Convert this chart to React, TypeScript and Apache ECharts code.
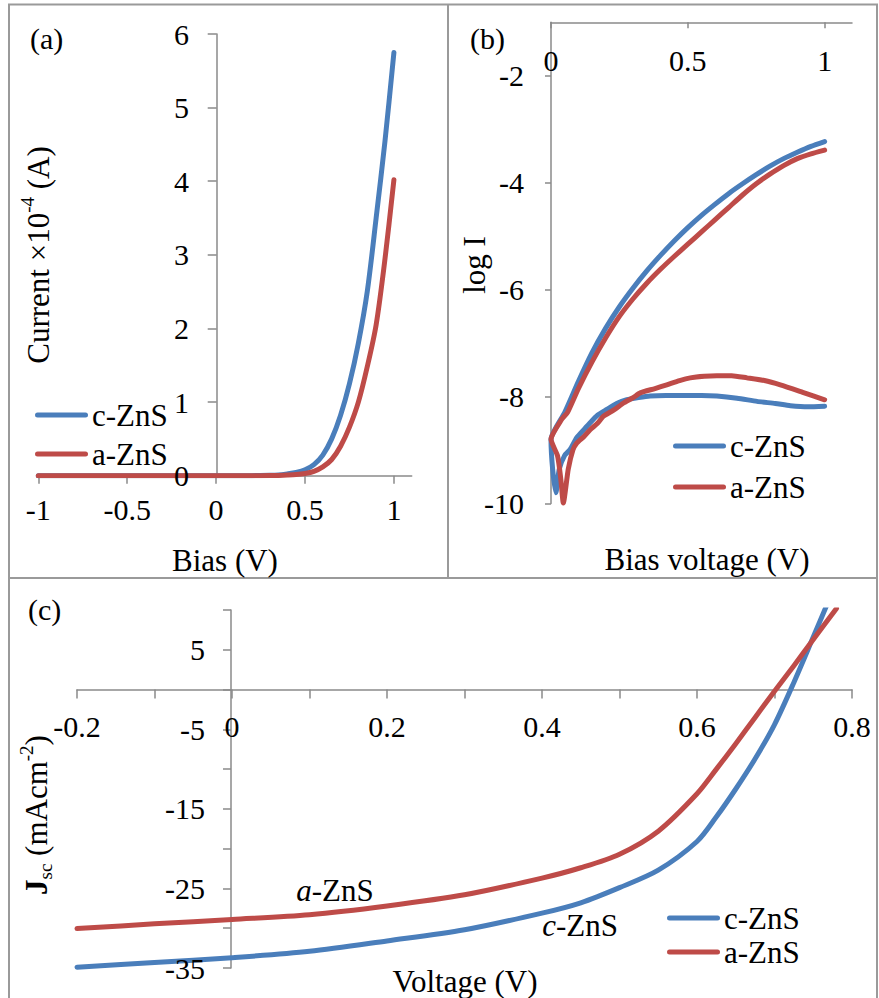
import React, { useEffect, useRef } from "react";
import * as echarts from "echarts";

// ---------- Panel (a): I-V, linear scale ----------
const biasA = [-1, -0.5, 0, 0.2, 0.3, 0.35, 0.4, 0.45, 0.5, 0.55, 0.6, 0.65, 0.7, 0.75, 0.8, 0.85, 0.9, 0.95, 1.0];
const cZnS_A = [0, 0, 0, 0.001, 0.005, 0.01, 0.025, 0.045, 0.08, 0.15, 0.28, 0.5, 0.82, 1.25, 1.8, 2.5, 3.5, 4.55, 5.75];
const aZnS_A = [0, 0, 0, 0, 0.002, 0.004, 0.008, 0.015, 0.03, 0.06, 0.12, 0.22, 0.4, 0.66, 1.0, 1.48, 2.05, 2.95, 4.02];
const ticksA_X = [-1, -0.5, 0, 0.5, 1];
const ticksA_Y = [0, 1, 2, 3, 4, 5, 6];

// ---------- Panel (b): log I ----------
const cZnS_B_x = [1.0, 0.95, 0.9, 0.85, 0.8, 0.75, 0.7, 0.65, 0.6, 0.55, 0.5, 0.45, 0.4, 0.35, 0.3, 0.25, 0.2, 0.15, 0.1, 0.05, 0.0, 0.006, 0.018, 0.03, 0.05, 0.07, 0.094, 0.12, 0.143, 0.17, 0.204, 0.24, 0.277, 0.32, 0.362, 0.42, 0.484, 0.55, 0.606, 0.68, 0.753, 0.82, 0.875, 0.94, 1.0];
const cZnS_B_y = [-3.23, -3.32, -3.43, -3.55, -3.69, -3.85, -4.02, -4.2, -4.4, -4.61, -4.84, -5.09, -5.36, -5.65, -5.97, -6.32, -6.72, -7.18, -7.72, -8.3, -8.8, -9.36, -9.8, -9.36, -9.1, -8.99, -8.77, -8.62, -8.49, -8.35, -8.24, -8.13, -8.06, -8.02, -7.99, -7.98, -7.98, -7.98, -7.99, -8.03, -8.09, -8.13, -8.17, -8.19, -8.18];
const aZnS_B_x = [1.0, 0.95, 0.9, 0.85, 0.8, 0.75, 0.7, 0.65, 0.6, 0.55, 0.5, 0.45, 0.4, 0.35, 0.3, 0.25, 0.2, 0.15, 0.1, 0.06, 0.04, 0.0, 0.024, 0.036, 0.045, 0.063, 0.08, 0.094, 0.12, 0.143, 0.17, 0.191, 0.23, 0.265, 0.3, 0.326, 0.38, 0.423, 0.47, 0.509, 0.56, 0.606, 0.66, 0.716, 0.78, 0.838, 0.92, 1.0];
const aZnS_B_y = [-3.39, -3.46, -3.55, -3.68, -3.84, -4.02, -4.23, -4.46, -4.69, -4.92, -5.15, -5.38, -5.62, -5.88, -6.17, -6.5, -6.9, -7.35, -7.85, -8.3, -8.42, -8.8, -9.11, -9.55, -9.99, -9.36, -9.0, -8.87, -8.75, -8.62, -8.5, -8.37, -8.25, -8.12, -8.02, -7.93, -7.85, -7.78, -7.7, -7.65, -7.62, -7.61, -7.61, -7.65, -7.7, -7.78, -7.92, -8.06];
const ticksB_Y = [-10, -8, -6, -4, -2];
const ticksB_X = [0, 0.5, 1];

// ---------- Panel (c): J-V ----------
const cZnS_C_v = [-0.2, -0.1, 0, 0.1, 0.2, 0.3, 0.4, 0.45, 0.5, 0.55, 0.6, 0.625, 0.65, 0.675, 0.7, 0.725, 0.75, 0.77];
const cZnS_C_j = [-34.9, -34.3, -33.7, -32.9, -31.6, -30.2, -28.1, -26.8, -24.9, -22.7, -19.1, -16.0, -12.5, -8.7, -4.4, 0.9, 6.6, 11.2];
const aZnS_C_v = [-0.2, -0.1, 0, 0.1, 0.2, 0.3, 0.4, 0.45, 0.5, 0.55, 0.6, 0.625, 0.65, 0.675, 0.7, 0.725, 0.75, 0.78];
const aZnS_C_j = [-30.05, -29.45, -28.9, -28.3, -27.2, -25.8, -23.7, -22.4, -20.7, -17.8, -13.1, -10.0, -6.8, -3.5, -0.2, 3.0, 6.3, 10.2];
const labelsC_X = [-0.2, 0, 0.2, 0.4, 0.6, 0.8];
const labelsC_Y = [-35, -25, -15, -5, 5];

const seriesNames = ["c-ZnS", "a-ZnS"];

const BLUE = "#4A7EBB";
const RED = "#BE4B48";
const FONT = "Liberation Serif";
const AXIS_COLOR = "#8a8a8a";
const FRAME = "#9a9a9a";

const zip = (xs: number[], ys: number[]) => xs.map((x, i) => [x, ys[i]]);

function lineSeries(name: string, color: string, idx: number, data: number[][], smooth: number | boolean) {
  return {
    type: "line",
    name,
    xAxisIndex: idx,
    yAxisIndex: idx,
    data,
    symbol: "none",
    smooth,
    lineStyle: { color, width: 5, cap: "round", join: "round" },
    itemStyle: { color },
    z: name === "a-ZnS" ? 3 : 2,
  };
}

// Text drawn as a rich token so the serif face is applied reliably.
function txt(x: number, y: number, text: string, size: number, align = "center") {
  return {
    type: "text", x, y, silent: true, z: 10,
    style: {
      text: "{n|" + text + "}",
      fontFamily: FONT, fontSize: size, fill: "#000", textAlign: align, textVerticalAlign: "middle",
      rich: { n: { fontFamily: FONT, fontSize: size, fill: "#000", color: "#000" } },
    },
  };
}

function legendGraphic(x: number, ys: number[]) {
  const colors = [BLUE, RED];
  const out: any[] = [];
  ys.forEach((y, i) => {
    out.push({
      type: "line", silent: true, z: 10,
      shape: { x1: x + 2.5, y1: y, x2: x + 50.5, y2: y },
      style: { stroke: colors[i], lineWidth: 5, lineCap: "round" },
    });
    out.push(txt(x + 57, y, seriesNames[i], 31, "left"));
  });
  return out;
}

const axisLine = { show: true, onZero: false, lineStyle: { color: AXIS_COLOR, width: 1.5 } };
const tickLine = { color: AXIS_COLOR, width: 1.5 };
const noLabel = { show: false };

export default function App() {
  const ref = useRef<HTMLDivElement>(null);

  useEffect(() => {
    if (!ref.current) return;
    const chart = echarts.init(ref.current, undefined, { renderer: "svg" });

    const staticGraphics: any[] = [
      { type: "rect", shape: { x: 9, y: 4.5, width: 868, height: 1000 }, style: { fill: "none", stroke: FRAME, lineWidth: 2 }, silent: true },
      { type: "line", shape: { x1: 448, y1: 4.5, x2: 448, y2: 578 }, style: { stroke: FRAME, lineWidth: 2 }, silent: true },
      { type: "line", shape: { x1: 9, y1: 578, x2: 877, y2: 578 }, style: { stroke: FRAME, lineWidth: 2 }, silent: true },
      txt(30, 38, "(a)", 30, "left"),
      txt(470, 38, "(b)", 30, "left"),
      txt(28, 609, "(c)", 30, "left"),
      txt(225, 560, "Bias (V)", 31),
      txt(707, 559, "Bias voltage (V)", 31),
      txt(465, 981, "Voltage (V)", 31),
      { ...txt(474, 265, "log I", 31), rotation: Math.PI / 2 },
      {
        type: "text", x: 36, y: 255, rotation: Math.PI / 2, silent: true,
        style: {
          text: "{n|Current ×10}{s|-4}{n| (A)}",
          fontFamily: FONT, fontSize: 31, fill: "#000", textAlign: "center", textVerticalAlign: "middle",
          rich: {
            n: { fontFamily: FONT, fontSize: 31, lineHeight: 36, verticalAlign: "bottom" },
            s: { fontFamily: FONT, fontSize: 19, lineHeight: 36, verticalAlign: "top" },
          },
        },
      },
      {
        type: "text", x: 36, y: 815, rotation: Math.PI / 2, silent: true,
        style: {
          text: "{b|J}{sub|sc}{n| (mAcm}{s|-2}{n|)}",
          fontFamily: FONT, fontSize: 31, fill: "#000", textAlign: "center", textVerticalAlign: "middle",
          rich: {
            b: { fontFamily: FONT, fontSize: 31, fontWeight: "bold", lineHeight: 38, verticalAlign: "middle" },
            sub: { fontFamily: FONT, fontSize: 19, lineHeight: 38, verticalAlign: "bottom" },
            n: { fontFamily: FONT, fontSize: 31, lineHeight: 38, verticalAlign: "middle" },
            s: { fontFamily: FONT, fontSize: 19, lineHeight: 38, verticalAlign: "top" },
          },
        },
      },
      {
        type: "text", x: 335, y: 890, silent: true,
        style: {
          text: "{i|a}{n|-ZnS}", fontFamily: FONT, fontSize: 31, fill: "#000", textAlign: "center", textVerticalAlign: "middle",
          rich: { i: { fontFamily: FONT, fontSize: 31, fontStyle: "italic" }, n: { fontFamily: FONT, fontSize: 31 } },
        },
      },
      {
        type: "text", x: 580, y: 925, silent: true,
        style: {
          text: "{i|c}{n|-ZnS}", fontFamily: FONT, fontSize: 31, fill: "#000", textAlign: "center", textVerticalAlign: "middle",
          rich: { i: { fontFamily: FONT, fontSize: 31, fontStyle: "italic" }, n: { fontFamily: FONT, fontSize: 31 } },
        },
      },
      ...legendGraphic(35, [415, 454]),
      ...legendGraphic(673, [446, 487]),
      ...legendGraphic(667, [918, 952]),
    ];

    const option: any = {
      animation: false,
      backgroundColor: "#fff",
      textStyle: { fontFamily: FONT, color: "#000" },
      grid: [
        { left: 38.3, top: 34, width: 373.4, height: 441.7 },
        { left: 551, top: 22.3, width: 301, height: 481.2 },
        { left: 77, top: 610, width: 775, height: 358 },
      ],
      xAxis: [
        {
          gridIndex: 0, type: "value", min: -1, max: 1.1, interval: 0.5,
          axisLine,
          axisTick: { show: true, inside: false, length: 8, customValues: ticksA_X, lineStyle: tickLine },
          axisLabel: noLabel,
          splitLine: { show: false },
        },
        {
          gridIndex: 1, type: "value", min: 0, max: 1.1, interval: 0.5, position: "top",
          axisLine,
          axisTick: { show: true, inside: true, length: 6, customValues: ticksB_X, lineStyle: tickLine },
          axisLabel: noLabel,
          splitLine: { show: false },
        },
        {
          gridIndex: 2, type: "value", min: -0.2, max: 0.8, interval: 0.1, position: "bottom", offset: -278.44,
          axisLine,
          axisTick: { show: true, inside: false, length: 9, lineStyle: tickLine },
          axisLabel: noLabel,
          splitLine: { show: false },
        },
      ],
      yAxis: [
        {
          gridIndex: 0, type: "value", min: 0, max: 6, interval: 1, position: "left", offset: -178.4,
          axisLine,
          axisTick: { show: true, inside: false, length: 9, lineStyle: tickLine },
          axisLabel: noLabel,
          splitLine: { show: false },
        },
        {
          gridIndex: 1, type: "value", min: -10, max: -1, interval: 2, position: "left",
          axisLine,
          axisTick: { show: true, inside: false, length: 6, customValues: ticksB_Y, lineStyle: tickLine },
          axisLabel: noLabel,
          splitLine: { show: false },
        },
        {
          gridIndex: 2, type: "value", min: -35, max: 10, interval: 5, position: "left", offset: -154,
          axisLine,
          axisTick: { show: true, inside: false, length: 8, lineStyle: tickLine },
          axisLabel: noLabel,
          splitLine: { show: false },
        },
      ],
      series: [
        lineSeries(seriesNames[0], BLUE, 0, zip(biasA, cZnS_A), 0.3),
        lineSeries(seriesNames[1], RED, 0, zip(biasA, aZnS_A), 0.3),
        lineSeries(seriesNames[0], BLUE, 1, zip(cZnS_B_x, cZnS_B_y), 0.2),
        lineSeries(seriesNames[1], RED, 1, zip(aZnS_B_x, aZnS_B_y), 0.2),
        lineSeries(seriesNames[0], BLUE, 2, zip(cZnS_C_v, cZnS_C_j), 0.3),
        lineSeries(seriesNames[1], RED, 2, zip(aZnS_C_v, aZnS_C_j), 0.3),
      ],
      graphic: staticGraphics,
    };

    chart.setOption(option);

    // Tick labels placed through the chart's own scales.
    const px = (g: number, v: number[]) => chart.convertToPixel({ gridIndex: g } as any, v) as number[];
    const labels: any[] = [];
    const axA = px(0, [0, 0]);
    ticksA_X.forEach((v) => { const p = px(0, [v, 0]); labels.push(txt(p[0], p[1] + 34, String(v), 30)); });
    ticksA_Y.forEach((v) => { const p = px(0, [0, v]); labels.push(txt(axA[0] - 27, p[1], String(v), 30, "right")); });
    const axB = px(1, [0, -1]);
    ticksB_X.forEach((v) => { const p = px(1, [v, -1]); labels.push(txt(p[0], axB[1] + 38, String(v), 30)); });
    ticksB_Y.forEach((v) => { const p = px(1, [0, v]); labels.push(txt(axB[0] - 27, p[1], String(v), 30, "right")); });
    const axC = px(2, [0, 0]);
    labelsC_X.forEach((v) => { const p = px(2, [v, 0]); labels.push(txt(p[0], axC[1] + 37, String(v), 30)); });
    labelsC_Y.forEach((v) => { const p = px(2, [0, v]); labels.push(txt(axC[0] - 27, p[1], String(v), 30, "right")); });

    chart.setOption({ graphic: [...staticGraphics, ...labels] });

    return () => chart.dispose();
  }, []);

  return (
    <div
      ref={ref}
      style={{ position: "absolute", left: 0, top: 0, width: 879, height: 998, background: "#fff" }}
    />
  );
}
